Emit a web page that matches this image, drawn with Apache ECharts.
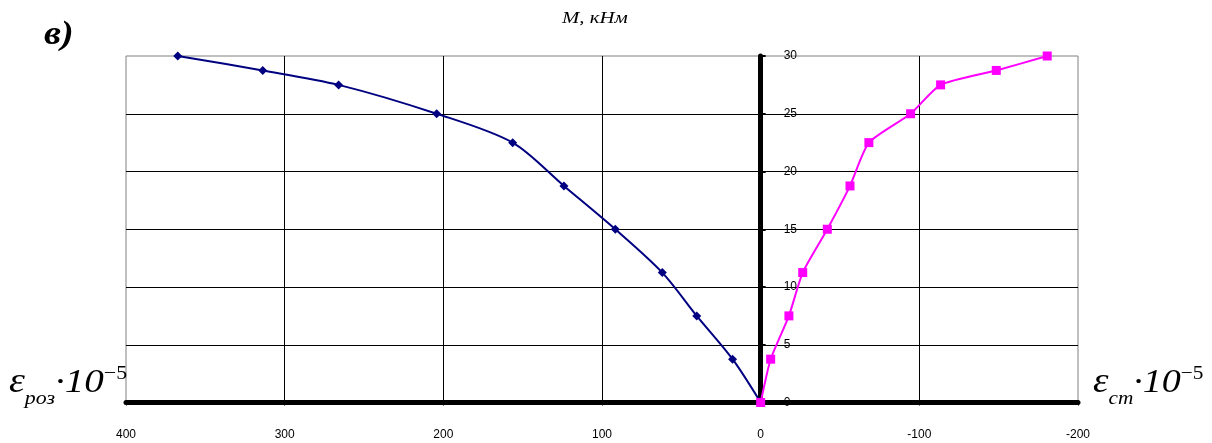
<!DOCTYPE html>
<html><head><meta charset="utf-8">
<script src="https://cdn.jsdelivr.net/npm/echarts@6/dist/echarts.min.js"></script>
<style>html,body{margin:0;padding:0;background:#fff}#c{width:1212px;height:443px}</style>
</head><body><div id="c"></div>
<script>
// Moment M, kNm (y values shared by both series)
const moments = [0, 3.75, 7.5, 11.25, 15, 18.75, 22.5, 25, 27.5, 28.75, 30];
// Tensile strain (ε_роз ·10^-5)
const strainTension = [0, 17.7, 40.3, 62, 91.6, 124, 156.3, 204.2, 266, 313.8, 367.4];
// Compressive strain (ε_ст ·10^-5)
const strainCompression = [0, -6.3, -17.8, -26.5, -42, -56.3, -68.2, -94.5, -113.4, -148.5, -180.6];
const xTicks = {min: -200, max: 400, interval: 100};
const yTicks = {min: 0, max: 30, interval: 5};

const tensionData = strainTension.map((v, i) => [v, moments[i]]);
const compressionData = strainCompression.map((v, i) => [v, moments[i]]);

const chart = echarts.init(document.getElementById('c'));
const serif = '"Liberation Serif", "DejaVu Serif", serif';
const sans = '"Liberation Sans", Arial, sans-serif';
const gridLeft = 126;
function epsRich(){
  return {
    e: {fontFamily: serif, fontStyle: 'italic', fontSize: 35, fill: '#000', verticalAlign: 'bottom'},
    sub: {fontFamily: serif, fontStyle: 'italic', fontSize: 19, fill: '#000', verticalAlign: 'bottom', padding: [0, 0, -8, 0]},
    n: {fontFamily: serif, fontStyle: 'italic', fontSize: 34, fill: '#000', verticalAlign: 'bottom'},
    sup: {fontFamily: serif, fontSize: 19, fill: '#000', verticalAlign: 'top', padding: [0, 0, 15, 0]}
  };
}
const option = {
  animation: false,
  backgroundColor: '#fff',
  grid: {left: gridLeft, right: 134, top: 56, bottom: 40.5, show: true, borderColor: '#808080', borderWidth: 1, backgroundColor: 'transparent'},
  xAxis: {
    type: 'value', inverse: true, min: xTicks.min, max: xTicks.max, interval: xTicks.interval,
    axisLine: {show: true, onZero: true, lineStyle: {color: '#000', width: 5}},
    axisTick: {show: true, inside: false, length: 3, lineStyle: {color: '#000', width: 1}},
    axisLabel: {margin: 26, color: '#000', fontSize: 12, fontFamily: sans},
    splitLine: {show: true, showMinLine: false, showMaxLine: false, lineStyle: {color: '#000', width: 1}}
  },
  yAxis: {
    type: 'value', position: 'left', offset: 0, min: yTicks.min, max: yTicks.max, interval: yTicks.interval,
    axisLine: {show: true, onZero: false, lineStyle: {color: '#000', width: 5}},
    axisTick: {show: true, inside: true, length: 5, lineStyle: {color: '#000', width: 2}},
    axisLabel: {inside: true, margin: 23, color: '#000', fontSize: 12, fontFamily: sans},
    splitLine: {show: true, showMinLine: false, showMaxLine: false, lineStyle: {color: '#000', width: 1}}
  },
  series: [
    {type: 'line', data: tensionData, smooth: 0.3, symbol: 'diamond', symbolSize: 9,
     lineStyle: {color: '#000080', width: 2}, itemStyle: {color: '#000080'}, z: 3},
    {type: 'line', data: compressionData, smooth: 0.2, symbol: 'rect', symbolSize: 9,
     lineStyle: {color: '#FF00FF', width: 2}, itemStyle: {color: '#FF00FF'}, z: 4}
  ],
  graphic: [
    {type: 'text', x: 44, y: 19, scaleX: 1.15, style: {text: 'в)', fontFamily: serif, fontStyle: 'italic', fontWeight: 'bold', fontSize: 33, fill: '#000'}},
    {type: 'text', x: 562, y: 11, scaleX: 1.3, style: {text: 'M, кНм', fontFamily: serif, fontStyle: 'italic', fontSize: 16, fill: '#000'}},
    {type: 'text', x: 9, y: 365, scaleX: 1.15, style: {text: '{e|ε}{sub|роз}{n|·10}{sup|−5}', rich: epsRich()}},
    {type: 'text', x: 1093, y: 365, scaleX: 1.12, style: {text: '{e|ε}{sub|ст}{n|·10}{sup|−5}', rich: epsRich()}}
  ]
};
chart.setOption(option);
// place the value (moment) axis on the x = 0 line, as in the reference
const zeroPx = chart.convertToPixel({xAxisIndex: 0}, 0);
chart.setOption({yAxis: {offset: -(zeroPx - gridLeft)}});
</script></body></html>
